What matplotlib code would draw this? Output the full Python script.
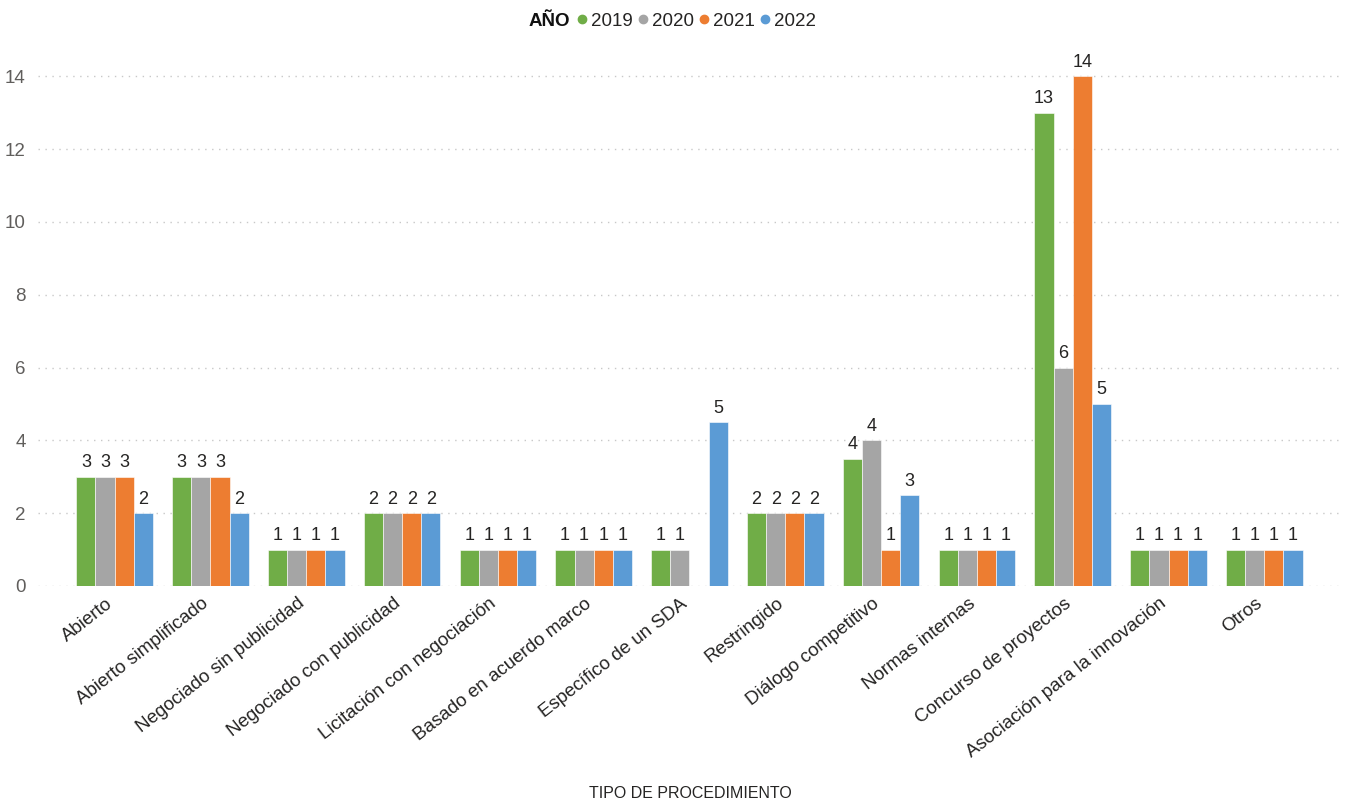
import numpy as np
import matplotlib
matplotlib.use('Agg')
import matplotlib.pyplot as plt
import matplotlib.transforms as mtransforms
from matplotlib.lines import Line2D

plt.rcParams['font.family'] = ['Liberation Sans', 'DejaVu Sans']

categorias = ['Abierto', 'Abierto simplificado', 'Negociado sin publicidad',
              'Negociado con publicidad', 'Licitación con negociación',
              'Basado en acuerdo marco', 'Específico de un SDA', 'Restringido',
              'Diálogo competitivo', 'Normas internas', 'Concurso de proyectos',
              'Asociación para la innovación', 'Otros']
anios = ['2019', '2020', '2021', '2022']
v2019 = [3, 3, 1, 2, 1, 1, 1, 2, 3.5, 1, 13, 1, 1]
v2020 = [3, 3, 1, 2, 1, 1, 1, 2, 4, 1, 6, 1, 1]
v2021 = [3, 3, 1, 2, 1, 1, np.nan, 2, 1, 1, 14, 1, 1]
v2022 = [2, 2, 1, 2, 1, 1, 4.5, 2, 2.5, 1, 5, 1, 1]
colores = ['#70AD47', '#A5A5A5', '#ED7D31', '#5B9BD5']

series = [v2019, v2020, v2021, v2022]

fig = plt.figure(figsize=(13.49, 8.05), dpi=100)
ax = fig.add_axes([38/1349, 1-586/805, (1340-38)/1349, 536/805])

x = np.arange(len(categorias))
w = 0.2
for i, (vals, c) in enumerate(zip(series, colores)):
    vals = np.array(vals, dtype=float)
    pos = x + (i - 1.5) * w
    ax.bar(pos, vals, width=w, color=c, edgecolor='white', linewidth=0.4, zorder=3)
    for p, v in zip(pos, vals):
        if np.isnan(v):
            continue
        ax.text(p, v + 0.15, str(int(np.floor(v + 0.5))), ha='center', va='bottom',
                fontsize=13, color='#252423', zorder=4)

ax.set_xlim(-0.8, 12.79)
ax.set_ylim(0, 14.72)
ax.set_yticks(range(0, 15, 2))
ax.set_xticks(x)
ax.set_xticklabels([])
# etiquetas del eje x, algo desplazadas a la izquierda
trans = ax.get_xaxis_transform() + mtransforms.ScaledTranslation(-9/100, -9/100, fig.dpi_scale_trans)
for xi, cat in zip(x, categorias):
    ax.text(xi, 0, cat, transform=trans, rotation=38, rotation_mode='anchor',
            ha='right', va='top', fontsize=13.5, color='#252423')
ax.tick_params(axis='y', labelsize=13.5, colors='#605E5C', length=0, pad=9)
ax.tick_params(axis='x', length=0)
ax.grid(axis='y', linestyle=(0, (1, 4)), color='#C8C8C8', linewidth=1, zorder=0)
for s in ax.spines.values():
    s.set_visible(False)

fig.text(690/1349, 1-793/805, 'TIPO DE PROCEDIMIENTO', ha='center', va='center',
         fontsize=11.5, color='#252423')

# leyenda
fig.text(570/1349, 1-21/805, 'AÑO', ha='right', va='center', fontsize=13.5,
         fontweight='bold', color='#111111')
handles = [Line2D([], [], linestyle='none', marker='o', markersize=6, color=c) for c in colores]
fig.legend(handles, anios, loc='center left', bbox_to_anchor=(576/1349, 1-21/805),
           ncol=4, frameon=False, fontsize=13.5, handlelength=0.6, handletextpad=0.2,
           columnspacing=0.22, borderpad=0, borderaxespad=0, labelcolor='#252423')

fig.savefig('out.png', dpi=100)
